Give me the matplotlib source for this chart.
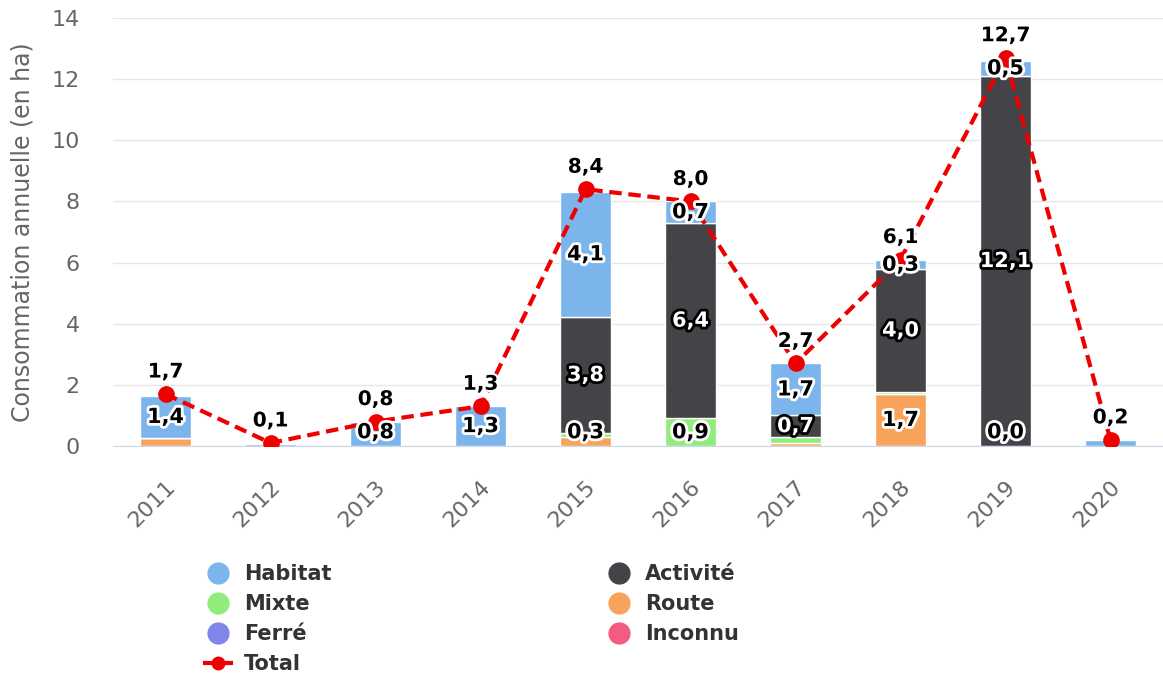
import matplotlib.pyplot as plt
import matplotlib.patheffects as pe
import matplotlib.transforms as mtransforms
import numpy as np
from matplotlib.lines import Line2D

years = ['2011', '2012', '2013', '2014', '2015', '2016', '2017', '2018', '2019', '2020']

# nan = no value for that year
nan = np.nan
habitat = [1.4, 0.06, 0.8, 1.3, 4.1, 0.7, 1.7, 0.3, 0.5, 0.2]
activite = [nan, nan, nan, nan, 3.8, 6.4, 0.7, 4.0, 12.1, nan]
mixte = [nan, nan, nan, nan, 0.12, 0.9, 0.2, 0.08, nan, nan]
route = [0.25, nan, nan, nan, 0.3, nan, 0.1, 1.7, 0.0, nan]
ferre = [nan] * 10
inconnu = [nan] * 10
total = [1.7, 0.1, 0.8, 1.3, 8.4, 8.0, 2.7, 6.1, 12.7, 0.2]

# stacking order, bottom to top
series = [
    ('Inconnu', inconnu, '#f15c80'),
    ('Ferré', ferre, '#8085e9'),
    ('Route', route, '#f7a35c'),
    ('Mixte', mixte, '#90ed7d'),
    ('Activité', activite, '#434348'),
    ('Habitat', habitat, '#7cb5ec'),
]


def fmt(v):
    return f'{v:.1f}'.replace('.', ',')


fig = plt.figure(figsize=(11.63, 6.78), dpi=100)
ax = fig.add_axes([113 / 1163, (678 - 446) / 678, 1050 / 1163, 428 / 678])

x = np.arange(len(years))
bottom = np.zeros(len(years))
for name, vals, color in series:
    v = np.array(vals, dtype=float)
    h = np.nan_to_num(v)
    if np.any(h > 0):
        ax.bar(x, h, 0.49, bottom=bottom, color=color, edgecolor='white', linewidth=1, zorder=2)
    for i, val in enumerate(v):
        if np.isnan(val) or not (val >= 0.3 or val == 0):
            continue
        yc = max(bottom[i] + val / 2, 0.45)
        if name == 'Activité':
            tc, oc = 'white', 'black'
        else:
            tc, oc = 'black', 'white'
        ax.text(x[i], yc, fmt(val), ha='center', va='center', fontsize=15, fontweight='bold',
                color=tc, zorder=5, path_effects=[pe.withStroke(linewidth=4, foreground=oc)])
    bottom += h

ax.plot(x, total, color='#ee0000', linestyle='--', linewidth=3, dashes=(3, 1.6),
        marker='o', markersize=11, zorder=4)
for i, t in enumerate(total):
    ax.annotate(fmt(t), (x[i], t), xytext=(0, 9), textcoords='offset points', ha='center',
                va='bottom', fontsize=14.5, fontweight='bold', color='black', zorder=6,
                path_effects=[pe.withStroke(linewidth=3, foreground='white')])

ax.set_xlim(-0.5, len(years) - 0.5)
ax.set_ylim(0, 14)
ax.set_yticks(np.arange(0, 15, 2))
ax.set_xticks(x)
ax.set_xticklabels(years, rotation=45, ha='right', rotation_mode='anchor')
shift = mtransforms.ScaledTranslation(-6 / 100, 0, fig.dpi_scale_trans)
for lbl in ax.get_xticklabels():
    lbl.set_transform(lbl.get_transform() + shift)
ax.tick_params(axis='y', length=0, labelsize=16, labelcolor='#666666', pad=24)
ax.tick_params(axis='x', length=0, labelsize=16, labelcolor='#666666', pad=22)
ax.grid(axis='y', color='#e6e6e6', linewidth=1)
ax.set_axisbelow(True)
for s in ['top', 'right', 'left']:
    ax.spines[s].set_visible(False)
ax.spines['bottom'].set_color('#ccd6eb')
ax.set_ylabel('Consommation annuelle (en ha)', fontsize=17, color='#666666', labelpad=12)

# legend
def dot(color):
    return Line2D([], [], linestyle='none', marker='o', markersize=15, color=color)

handles = [dot('#7cb5ec'), dot('#90ed7d'), dot('#8085e9'),
           Line2D([], [], color='#ee0000', linewidth=3, marker='o', markersize=9),
           dot('#434348'), dot('#f7a35c'), dot('#f15c80')]
labels = ['Habitat', 'Mixte', 'Ferré', 'Total', 'Activité', 'Route', 'Inconnu']
leg = fig.legend(handles, labels, ncol=2, loc='upper left', bbox_to_anchor=(195 / 1163, 1 - 554 / 678),
                 frameon=False, prop={'weight': 'bold', 'size': 15}, handlelength=1.25,
                 handletextpad=0.6, labelspacing=0.47, columnspacing=13.2, borderpad=0)
for t in leg.get_texts():
    t.set_color('#333333')

plt.savefig('out.png', dpi=100)
